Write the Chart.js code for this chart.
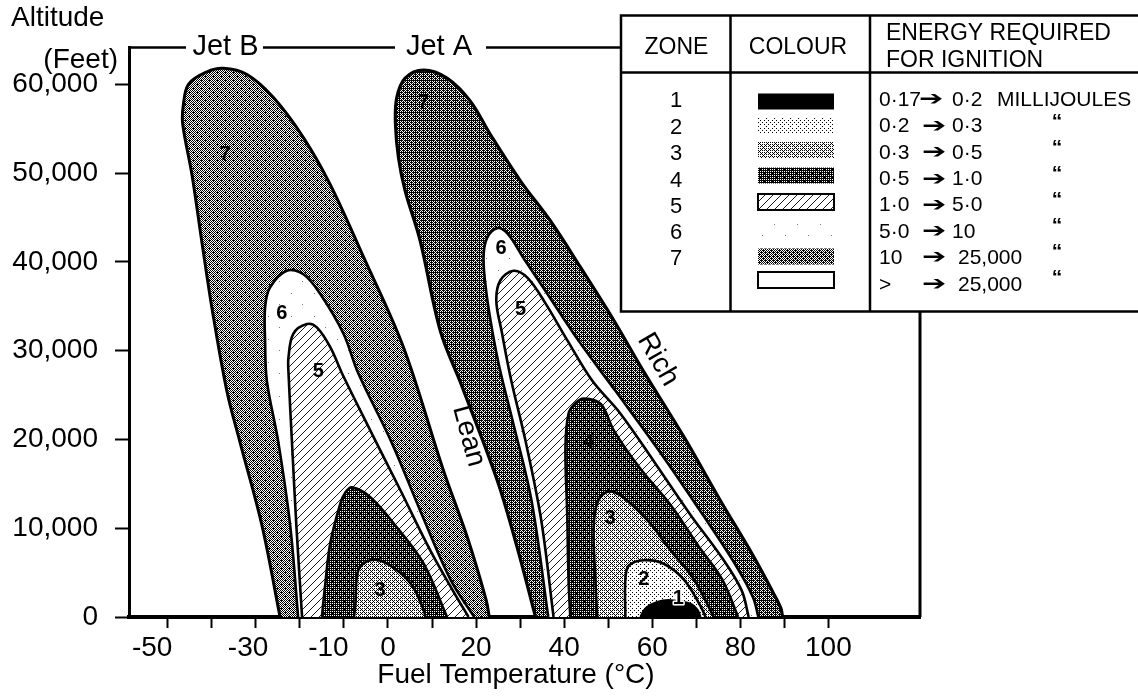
<!DOCTYPE html>
<html>
<head>
<meta charset="utf-8">
<script src="https://cdn.jsdelivr.net/npm/chart.js@4.4.1/dist/chart.umd.min.js"></script>
<style>
  html, body { margin: 0; padding: 0; background: #fff; }
  #wrap { width: 1138px; height: 698px; }
</style>
</head>
<body>
<div id="wrap"><canvas id="ignitionChart" width="1138" height="698"></canvas></div>
<script>
// axis ticks
const X_TICKS = [-50, -40, -30, -20, -10, 0, 10, 20, 30, 40, 50, 60, 70, 80, 90, 100];
const X_LABELS = [-50, -30, -10, 0, 20, 40, 60, 80, 100];
const Y_TICKS = [0, 10000, 20000, 30000, 40000, 50000, 60000];

// zone outlines: fuel temperature (°C) and altitude (ft), traced from the left foot round to the right foot
const jetB7T = [-24.5, -28.6, -33.6, -36.6, -40.0, -42.3, -44.5, -46.6, -46.5, -45.3, -41.1, -37.4, -32.0, -26.0, -19.2, -13.1, -5.5, 3.5, 12.6, 18.0, 22.3, 23.0];
const jetB7A = [0, 10300, 19700, 25500, 34900, 42400, 49800, 55500, 57500, 60000, 61400, 61800, 61100, 58500, 54000, 48700, 40500, 30400, 16500, 9000, 1900, 0];
const jetB6T = [-20.4, -22.2, -24.9, -27.5, -27.9, -27.9, -26.8, -23.0, -19.2, -15.4, -10.1, -6.8, 0.8, 7.3, 14.2, 19.6];
const jetB6A = [0, 10300, 19700, 26600, 31100, 34900, 37100, 39000, 38600, 36400, 31900, 27500, 19700, 12000, 4200, 0];
const jetB5T = [-19.5, -20.8, -21.8, -22.6, -22.6, -21.5, -18.4, -16.1, -13.1, -10.2, -4.0, 2.8, 9.6, 15.3, 18.3];
const jetB5A = [0, 10300, 19700, 27700, 29200, 31900, 33000, 32600, 30400, 27200, 21000, 14300, 7500, 2500, 0];
const jetB4T = [-15.0, -14.3, -13.1, -10.8, -9.7, -8.2, -4.0, 2.0, 8.1, 13.4];
const jetB4A = [0, 3400, 8300, 12800, 14000, 14600, 13500, 10100, 6000, 0];
const jetB3T = [-7.7, -7.4, -6.7, -4.0, -0.2, 5.1, 8.1, 8.5];
const jetB3A = [0, 1500, 5300, 6400, 6000, 3800, 800, 0];

const jetA7T = [33.5, 29.3, 24.8, 16.7, 11.9, 7.3, 3.9, 2.4, 1.7, 2.0, 3.9, 8.1, 13.4, 18.7, 23.3, 30.1, 36.9, 43.7, 51.3, 58.0, 67.3, 75.5, 82.8, 87.4, 89.2, 89.6];
const jetA7A = [0, 7900, 15400, 26100, 32200, 42400, 48000, 51700, 55500, 58500, 60700, 61600, 60700, 58100, 54300, 49100, 44600, 39400, 33400, 27700, 20200, 13100, 7000, 2800, 1000, 0];
const jetA6T = [36.4, 32.6, 28.3, 25.5, 23.7, 22.3, 21.7, 22.5, 24.8, 27.3, 30.8, 35.8, 43.3, 51.6, 62.3, 71.5, 79.0, 82.9, 84.1];
const jetA6A = [0, 13100, 22100, 27700, 32200, 36700, 40500, 42700, 43800, 43100, 40400, 36700, 31100, 25500, 18200, 11500, 5800, 2200, 0];
const jetA5T = [37.6, 34.8, 31.2, 28.0, 25.8, 24.6, 25.5, 28.5, 31.7, 35.8, 40.8, 46.4, 52.8, 60.7, 68.7, 75.8, 80.3, 81.9];
const jetA5A = [0, 10900, 19900, 26600, 32200, 35600, 37900, 39000, 38200, 35300, 31100, 26600, 22900, 17300, 11500, 6700, 3000, 0];
const jetA4T = [41.4, 41.0, 40.7, 40.3, 41.0, 42.6, 44.5, 48.3, 51.3, 57.0, 64.5, 70.6, 75.9, 79.5];
const jetA4A = [0, 4200, 11600, 19100, 22900, 24100, 24600, 24000, 21000, 16900, 12400, 7900, 4200, 0];
const jetA3T = [47.5, 47.1, 46.7, 47.5, 49.8, 52.8, 58.9, 64.2, 69.5, 74.0];
const jetA3A = [0, 4200, 9800, 12800, 14100, 13700, 10900, 7500, 4200, 0];
const jetA2T = [53.9, 53.9, 54.7, 58.1, 62.6, 67.2, 71.0, 72.1];
const jetA2A = [0, 4200, 5800, 6400, 6000, 4200, 1200, 0];
const jetA1T = [57.3, 58.5, 61.1, 64.2, 68.7, 70.3, 71.0];
const jetA1A = [0, 1000, 1700, 1900, 1500, 800, 0];

// legend table
const ZONE_NUMS = ['1', '2', '3', '4', '5', '6', '7'];
const ENERGY_FROM = ['0·17', '0·2', '0·3', '0·5', '1·0', '5·0', '10', '>'];
const ENERGY_TO = ['0·2', '0·3', '0·5', '1·0', '5·0', '10', '25,000', '25,000'];

const FONT = '"Liberation Sans", Arial, Helvetica, sans-serif';
Chart.defaults.font.family = FONT;
Chart.defaults.color = '#000';

const canvas = document.getElementById('ignitionChart');
const ctx = canvas.getContext('2d');

// ordered dither, looks like the scanned halftone
function bayer(n) {
  let m = [[0]];
  while (m.length < n) {
    const s = m.length;
    const next = [];
    for (let i = 0; i < 2 * s; i++) next.push(new Array(2 * s));
    for (let i = 0; i < s; i++) {
      for (let j = 0; j < s; j++) {
        const v = 4 * m[i][j];
        next[i][j] = v;
        next[i][j + s] = v + 2;
        next[i + s][j] = v + 3;
        next[i + s][j + s] = v + 1;
      }
    }
    m = next;
  }
  return m;
}
const BAYER = bayer(8);

function dither(level) {
  const cv = document.createElement('canvas');
  cv.width = cv.height = 8;
  const g = cv.getContext('2d');
  g.fillStyle = '#fff';
  g.fillRect(0, 0, 8, 8);
  g.fillStyle = '#000';
  for (let i = 0; i < 8; i++) {
    for (let j = 0; j < 8; j++) {
      if (BAYER[i][j] < level * 64) g.fillRect(j, i, 1, 1);
    }
  }
  return ctx.createPattern(cv, 'repeat');
}

// almost white, a few stray specks
function specks() {
  const cv = document.createElement('canvas');
  cv.width = cv.height = 23;
  const g = cv.getContext('2d');
  g.fillStyle = '#fff';
  g.fillRect(0, 0, 23, 23);
  g.fillStyle = '#777';
  g.fillRect(3, 5, 1, 1);
  g.fillRect(15, 17, 1, 1);
  return ctx.createPattern(cv, 'repeat');
}

function hatch(step) {
  const cv = document.createElement('canvas');
  cv.width = cv.height = step;
  const g = cv.getContext('2d');
  g.fillStyle = '#fff';
  g.fillRect(0, 0, step, step);
  g.strokeStyle = '#222';
  g.lineWidth = 1;
  g.beginPath();
  for (const o of [-step, 0, step]) {
    g.moveTo(o, step);
    g.lineTo(o + step, 0);
  }
  g.stroke();
  return ctx.createPattern(cv, 'repeat');
}

const fills = {
  z1: '#000',
  z2: dither(0.1),
  z3: dither(0.34),
  z4: dither(0.77),
  z5: hatch(8),
  z6: specks(),
  z7B: dither(0.52),
  z7A: dither(0.66),
  z7: dither(0.58)
};

function zone(T, A, fill, width) {
  return {
    data: T.map((t, i) => ({ x: t, y: A[i] })),
    showLine: true,
    fill: 'shape',
    backgroundColor: fill,
    borderColor: '#000',
    borderWidth: width || 2.6,
    pointRadius: 0,
    tension: 0.35
  };
}

// outer zones first, inner zones painted over them
const shapes = [
  zone(jetB7T, jetB7A, fills.z7B, 3),
  zone(jetB6T, jetB6A, fills.z6),
  zone(jetB5T, jetB5A, fills.z5),
  zone(jetB4T, jetB4A, fills.z4),
  zone(jetB3T, jetB3A, fills.z3),
  zone(jetA7T, jetA7A, fills.z7A, 3.2),
  zone(jetA6T, jetA6A, fills.z6),
  zone(jetA5T, jetA5A, fills.z5),
  zone(jetA4T, jetA4A, fills.z4),
  zone(jetA3T, jetA3A, fills.z3),
  zone(jetA2T, jetA2A, fills.z2),
  zone(jetA1T, jetA1A, fills.z1, 2)
];
shapes.forEach((d, i) => { d.order = shapes.length - i; });

// zone numbers and side notes, placed in data units
const zoneNotes = [
  { t: '7', x: -37.0, y: 52100 },
  { t: '6', x: -24.1, y: 34200 },
  { t: '5', x: -15.8, y: 27600 },
  { t: '3', x: -1.8, y: 3000 },
  { t: '7', x: 8.1, y: 57900 },
  { t: '6', x: 25.7, y: 41500 },
  { t: '5', x: 30.1, y: 34600 },
  { t: '4', x: 45.6, y: 19600 },
  { t: '3', x: 50.4, y: 11100 },
  { t: '2', x: 58.1, y: 4200 },
  { t: '1', x: 65.9, y: 2100, halo: true }
];
const sideNotes = [
  { t: 'Lean', x: 18.3, y: 20400, rot: 75 },
  { t: 'Rich', x: 61.3, y: 29000, rot: 60 }
];

// tick text is nudged left on the negative side, as in the print
const X_LABEL_PAD = { '-50': '    ', '-30': '  ', '-10': '    ' };

const decor = {
  id: 'decor',
  afterDatasetsDraw(chart) {
    const c = chart.ctx;
    const { x, y } = chart.scales;
    c.save();
    c.textAlign = 'center';
    c.textBaseline = 'middle';
    c.fillStyle = '#000';
    c.font = 'bold 20px ' + FONT;
    zoneNotes.forEach(n => {
      const px = x.getPixelForValue(n.x), py = y.getPixelForValue(n.y);
      if (n.halo) {
        c.strokeStyle = '#fff';
        c.lineWidth = 3;
        c.lineJoin = 'round';
        c.strokeText(n.t, px, py);
      }
      c.fillText(n.t, px, py);
    });
    c.font = '28px ' + FONT;
    sideNotes.forEach(n => {
      c.save();
      c.translate(x.getPixelForValue(n.x), y.getPixelForValue(n.y));
      c.rotate(n.rot * Math.PI / 180);
      c.fillText(n.t, 0, 0);
      c.restore();
    });
    c.restore();
  },
  afterDraw(chart) {
    const c = chart.ctx;
    const area = chart.chartArea;
    c.save();
    c.strokeStyle = '#000';
    c.fillStyle = '#000';

    // top frame with the two fuel names
    c.lineWidth = 2.5;
    c.beginPath();
    c.moveTo(area.left, 47.5); c.lineTo(186, 47.5);
    c.moveTo(263, 47.5); c.lineTo(395, 47.5);
    c.moveTo(486, 47.5); c.lineTo(621, 47.5);
    c.stroke();
    c.lineWidth = 3;
    c.beginPath();
    c.moveTo(area.right, 311); c.lineTo(area.right, area.bottom);
    c.stroke();

    c.font = '29px ' + FONT;
    c.textAlign = 'center';
    c.textBaseline = 'middle';
    c.fillText('Jet B', 225.5, 47);
    c.fillText('Jet A', 439, 47);

    // axis titles
    c.font = '28px ' + FONT;
    c.textAlign = 'left';
    c.fillText('Altitude', 11, 18);
    c.textAlign = 'right';
    c.fillText('(Feet)', 118, 60);
    c.textAlign = 'center';
    c.fillText('Fuel Temperature (°C)', 516, 675);

    // legend table
    c.fillStyle = '#fff';
    c.fillRect(621, 15, 517, 297);
    c.fillStyle = '#000';
    c.lineWidth = 2.5;
    c.beginPath();
    c.moveTo(1138, 15.5); c.lineTo(621, 15.5); c.lineTo(621, 311.5); c.lineTo(1138, 311.5);
    c.moveTo(621, 72.5); c.lineTo(1138, 72.5);
    c.moveTo(730.5, 15.5); c.lineTo(730.5, 311.5);
    c.moveTo(870, 15.5); c.lineTo(870, 311.5);
    c.stroke();

    c.font = '23px ' + FONT;
    c.textAlign = 'center';
    c.fillText('ZONE', 676.5, 48);
    c.fillText('COLOUR', 798, 48);
    c.textAlign = 'left';
    c.fillText('ENERGY REQUIRED', 886, 34);
    c.fillText('FOR IGNITION', 886, 61);

    const rowY = [101, 127.5, 154, 180.5, 206.5, 233, 259, 286];
    c.font = '22px ' + FONT;
    c.textAlign = 'center';
    ZONE_NUMS.forEach((z, i) => c.fillText(z, 676, rowY[i]));

    const swatchTop = [93.5, 117, 142, 167.5, 194, 222, 248.5, 272];
    const swatchFill = [fills.z1, fills.z2, fills.z3, fills.z4, fills.z5, fills.z6, fills.z7, '#fff'];
    swatchFill.forEach((f, i) => {
      c.fillStyle = f;
      c.fillRect(758, swatchTop[i], 76, 16);
      if (i === 4 || i === 7) {
        c.lineWidth = 2;
        c.strokeRect(758, swatchTop[i], 76, 16);
      }
    });

    c.fillStyle = '#000';
    c.textAlign = 'left';
    ENERGY_FROM.forEach((f, i) => {
      c.font = '21px ' + FONT;
      c.fillText(f, 879, rowY[i] - 1);
      c.fillText(ENERGY_TO[i], i >= 6 ? 958 : 952, rowY[i] - 1);
      c.save();
      c.translate(i === 0 ? 919 : 922, rowY[i] - 1);
      c.scale(1.45, 1);
      c.font = '20px "DejaVu Sans", sans-serif';
      c.fillText('➔', 0, 0);
      c.restore();
    });
    c.font = '21px ' + FONT;
    c.fillText('MILLIJOULES', 997, rowY[0] - 1);
    c.font = 'bold 21px ' + FONT;
    c.textAlign = 'center';
    [117, 143, 169, 195, 221, 247, 273].forEach(yy => c.fillText('“', 1057, yy + 5));
    c.restore();
  }
};

new Chart(canvas, {
  type: 'scatter',
  data: { datasets: shapes },
  options: {
    responsive: false,
    animation: false,
    devicePixelRatio: 1,
    layout: { padding: { top: 47, right: 218, left: 0, bottom: 0 } },
    plugins: { legend: { display: false }, tooltip: { enabled: false } },
    scales: {
      x: {
        type: 'linear',
        min: -58.8,
        max: 120.8,
        afterBuildTicks: s => { s.ticks = X_TICKS.map(v => ({ value: v })); },
        afterFit: s => { s.height = 81; },
        grid: { display: true, drawOnChartArea: false, drawTicks: true, tickLength: 11, tickWidth: 2, tickColor: '#000', color: '#000' },
        border: { display: true, color: '#000', width: 4 },
        ticks: {
          font: { size: 28 },
          color: '#000',
          padding: 3,
          maxRotation: 0,
          autoSkip: false,
          callback: v => X_LABELS.includes(v) ? String(v) + (X_LABEL_PAD[v] || '') : ''
        }
      },
      y: {
        type: 'linear',
        min: 0,
        max: 64200,
        afterBuildTicks: s => { s.ticks = Y_TICKS.map(v => ({ value: v })); },
        afterFit: s => { s.width = 129; },
        grid: { display: true, drawOnChartArea: false, drawTicks: true, tickLength: 14, tickWidth: 2, tickColor: '#000', color: '#000' },
        border: { display: true, color: '#000', width: 3 },
        ticks: {
          font: { size: 28 },
          color: '#000',
          padding: 17,
          autoSkip: false,
          callback: v => v.toLocaleString('en-US')
        }
      }
    }
  },
  plugins: [decor]
});
</script>
</body>
</html>
